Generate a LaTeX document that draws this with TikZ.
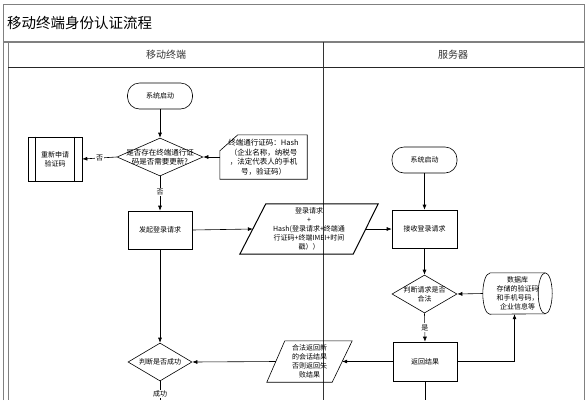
\documentclass[tikz,border=0pt]{standalone}
\usepackage{fontspec}
\setmainfont{Noto Sans CJK SC}
\usetikzlibrary{shapes.geometric,arrows.meta,calc}
\begin{document}
\begin{tikzpicture}[x=1pt,y=-1pt,
  lane/.style={draw=black!50,line width=0.8pt},
  fs/.style={font=\fontsize{7}{9}\selectfont},
  box/.style={draw,line width=0.6pt,fs,align=center,inner sep=1pt},
  startbox/.style={box,rounded corners=12pt},
  dia/.style={draw,diamond,line width=0.6pt,inner sep=0pt},
  txt/.style={fs,align=center,inner sep=0pt},
  conn/.style={line width=0.6pt,-{Latex[length=5pt,width=4pt]}},
  plain/.style={line width=0.6pt},
  lbl/.style={fs,fill=white,inner sep=1pt}]
\useasboundingbox (0,0) rectangle (588,400);
% frame
\coordinate (tl) at (3,4); \coordinate (tr) at (584,4);
\coordinate (bl) at (3,400); \coordinate (br) at (584,400);
\draw[lane] (bl) -- (tl) -- (tr) -- (br);
\coordinate (hl) at (3,42); \coordinate (hr) at (584,42);
\draw[lane,line width=1.2pt] (hl) -- (hr);
\coordinate (il) at (8,42); \coordinate (ilb) at (8,400);
\draw[lane] (il) -- (ilb);
\coordinate (hb1) at (8,67); \coordinate (hb2) at (584,67);
\draw[line width=0.8pt,black!85] (hb1) -- (hb2);
\coordinate (dv1) at (323,42); \coordinate (dv2) at (323,400);
\draw[line width=0.6pt,black!80] (dv1) -- (dv2);
\node[anchor=west,font=\fontsize{14.5}{16}\selectfont,inner sep=0pt] (title) at (7,23) {移动终端身份认证流程};
\node[font=\fontsize{10}{12}\selectfont,text=black!80] (lane1) at (166,55) {移动终端};
\node[font=\fontsize{10}{12}\selectfont,text=black!80] (lane2) at (453,55) {服务器};
% left lane
\node[startbox,minimum width=65pt,minimum height=26pt] (s1) at (160,96) {系统启动};
\node[dia,minimum width=86pt,minimum height=38pt] (d1) at (160,157) {};
\node[txt,font=\fontsize{7.5}{9.5}\selectfont] (d1t) at (d1) {是否存在终端通行证\\码是否需要更新?};
\node[box,minimum width=54pt,minimum height=44pt] (re) at (55,159) {重新申请\\验证码};
\draw[plain] ($(re.north west)+(8,0)$) -- ($(re.south west)+(8,0)$);
\draw[plain] ($(re.north east)+(-8,0)$) -- ($(re.south east)+(-8,0)$);
\node[txt,font=\fontsize{7.5}{9.5}\selectfont,minimum width=87pt,minimum height=44pt] (note) at (263.5,157) {终端通行证码：Hash\\（企业名称，纳税号\\，法定代表人的手机\\号，验证码）};
\draw[plain] ($(note.north west)+(18,0)$) -- (note.north east) -- (note.south east) -- (note.south west) -- ($(note.north west)+(0,16)$) -- cycle;
\node[box,minimum width=64pt,minimum height=38pt] (req) at (160,230) {发起登录请求};
\node[txt,minimum width=138pt,minimum height=50pt] (p1) at (309,229) {登录请求\\+\\Hash(登录请求+终端通\\行证码+终端IMEI+时间\\戳））};
\draw[line width=1pt] ($(p1.north west)+(26,0)$) -- (p1.north east) -- ($(p1.south east)+(-25,0)$) -- (p1.south west) -- cycle;
\coordinate (p1l) at ($(p1.west)+(13,0)$);
\coordinate (p1r) at ($(p1.east)+(-13,0)$);
\node[dia,minimum width=64pt,minimum height=38pt] (d3) at (160,362) {};
\node[txt] (d3t) at (d3) {判断是否成功};
% right lane
\node[startbox,minimum width=65pt,minimum height=26pt] (s2) at (424.5,160) {系统启动};
\node[box,minimum width=65pt,minimum height=38pt] (rcv) at (424.5,229) {接收登录请求};
\node[dia,minimum width=65pt,minimum height=38pt] (d2) at (424.5,294) {};
\node[txt] (d2t) at (d2) {判断请求是否\\合法};
\node[txt,minimum width=69pt,minimum height=41pt] (db) at (517.5,293.5) {数据库\\存储的验证码\\和手机号码，\\企业信息等};
\draw[plain] ($(db.north west)+(7,0)$) -- ($(db.north east)+(-7,0)$)
   arc[start angle=-90,end angle=90,x radius=7,y radius=20.5]
   -- ($(db.south west)+(7,0)$)
   arc[start angle=90,end angle=270,x radius=7,y radius=20.5] -- cycle;
\draw[plain] ($(db.north east)+(-7,0)$) arc[start angle=270,end angle=90,x radius=7,y radius=20.5];
\node[box,minimum width=64pt,minimum height=39pt] (ret) at (425,361.5) {返回结果};
\node[txt,minimum width=85pt,minimum height=41pt] (p2) at (309.5,361.5) {合法返回新\\的会话结果\\否则返回失\\败结果};
\draw[plain] ($(p2.north west)+(18,0)$) -- (p2.north east) -- ($(p2.south east)+(-20,0)$) -- (p2.south west) -- cycle;
\coordinate (p2l) at ($(p2.west)+(9,0)$);
\coordinate (p2r) at ($(p2.east)+(-10,0)$);
\coordinate (retb) at (425,400);
\coordinate (d3b) at (160,400);
% connectors
\draw[conn] (s1) -- (d1);
\draw[conn] (d1.west) -- node[lbl] (no1) {否} (re.east);
\draw[conn] (note.west) -- (d1.east);
\draw[conn] (d1.south) -- node[lbl,pos=0.45] (no2) {否} (req.north);
\draw[conn] (req.east) -- (p1l);
\draw[conn] (p1r) -- (rcv.west);
\draw[conn] (s2) -- (rcv);
\draw[conn] (rcv) -- (d2);
\draw[conn] (db.west) -- (d2.east);
\draw[conn] (d2.south) -- node[lbl,pos=0.5] (yes1) {是} (ret.north);
\draw[conn] (ret.east) -| ($(db.south)+(-3,0)$);
\draw[conn] (ret.west) -- (p2r);
\draw[conn] (p2l) -- (d3.east);
\draw[conn] (req.south) -- (d3.north);
\draw[plain] (ret.south) -- (retb);
\draw[plain] (d3.south) -- node[lbl,pos=0.68] (ok) {成功} (d3b);
\end{tikzpicture}
\end{document}
